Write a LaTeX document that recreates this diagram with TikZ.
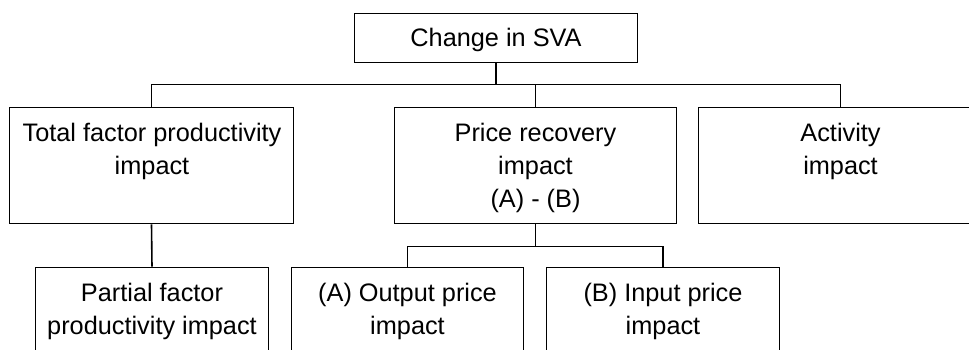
\documentclass[tikz,border=0pt]{standalone}
\usepackage{fontspec}
\setmainfont{Liberation Sans}
\newcommand{\firstline}{\rule{0pt}{19pt}}
\begin{document}
\begin{tikzpicture}[x=1pt,y=-1pt,
  box/.style={draw=black, line width=1.6pt, inner sep=0pt, rectangle},
  lbl/.style={anchor=north, inner sep=0pt, align=center, text=black,
    font={\fontsize{25.3}{33}\selectfont}},
  conn/.style={draw=black, line width=1.6pt}]
\useasboundingbox (0,0) rectangle (969,349);
\clip (0,0) rectangle (969,349);
\begin{scope}[shift={(0.5pt,-0.5pt)}]
% boxes
\node[box, minimum width=283pt, minimum height=49pt] (top) at (495.5,37.5) {};
\node[box, minimum width=284pt, minimum height=116pt] (tfp) at (151,165) {};
\node[box, minimum width=282pt, minimum height=116pt] (pr) at (535,165) {};
\node[box, minimum width=284pt, minimum height=116pt] (act) at (840,165) {};
\node[box, minimum width=233pt, minimum height=116pt] (part) at (151.5,325) {};
\node[box, minimum width=232pt, minimum height=116pt] (out) at (407,325) {};
\node[box, minimum width=233pt, minimum height=116pt] (inp) at (662.5,325) {};
% texts
\node[lbl] (top-t) at (495.5,27) {\firstline Change in SVA};
\node[lbl] (tfp-t) at (151.5,122) {\firstline Total factor productivity\\impact};
\node[lbl] (pr-t) at (535,122) {\firstline Price recovery\\impact\\(A) - (B)};
\node[lbl] (act-t) at (840,122) {\firstline Activity\\impact};
\node[lbl] (part-t) at (151.5,282) {\firstline Partial factor\\productivity impact};
\node[lbl] (out-t) at (407,282) {\firstline (A) Output price\\impact};
\node[lbl] (inp-t) at (662.5,282) {\firstline (B) Input price\\impact};
% connectors
\coordinate (b1) at (0,84);
\coordinate (b2) at (0,246);
\draw[conn] (top.south) -- (top.south |- b1);
\draw[conn] (tfp.north) |- (b1 -| act.north) -- (act.north);
\draw[conn] (pr.north) -- (pr.north |- b1);
\draw[conn] (tfp.south) -- (part.north);
\draw[conn] (pr.south) -- (pr.south |- b2);
\draw[conn] (out.north) |- (b2 -| inp.north) -- (inp.north);
\end{scope}
\end{tikzpicture}
\end{document}
